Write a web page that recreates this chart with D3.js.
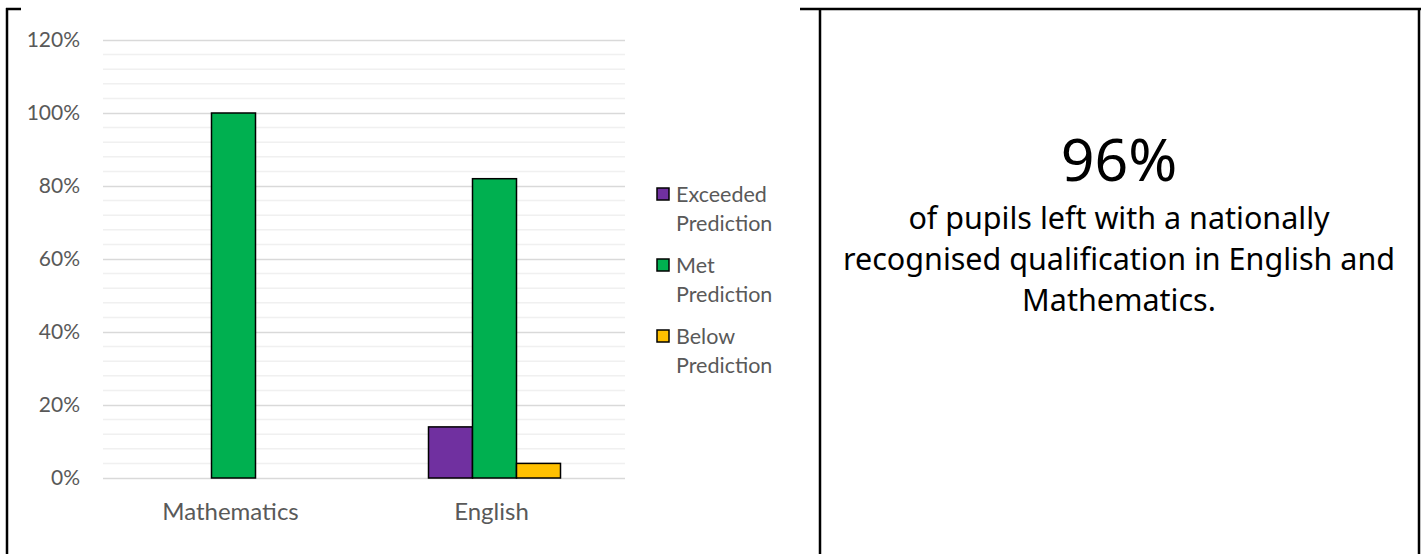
<!DOCTYPE html>
<html>
<head>
<meta charset="utf-8">
<script src="https://cdn.jsdelivr.net/npm/d3@7"></script>
<style>
  body { margin: 0; background: #fff; }
  svg { display: block; }
</style>
</head>
<body>
<script>
const subjects = ['Mathematics', 'English'];
const seriesNames = ['Exceeded Prediction', 'Met Prediction', 'Below Prediction'];
const exceeded = [0, 14];
const met = [100, 82];
const below = [0, 4];
const yTicks = [0, 20, 40, 60, 80, 100, 120];
const colours = ['#7030a0', '#00b050', '#ffc000'];
const headline = '96%';
const blurb = ['of pupils left with a nationally', 'recognised qualification in English and', 'Mathematics.'];

const W = 1423, H = 554;
const svg = d3.select('body').append('svg').attr('width', W).attr('height', H);

// table borders
const border = svg.append('g').attr('stroke', '#000').attr('stroke-width', 2.5);
border.append('line').attr('x1', 7).attr('x2', 7).attr('y1', 8).attr('y2', H);
border.append('line').attr('x1', 6).attr('x2', 21).attr('y1', 9).attr('y2', 9);
border.append('line').attr('x1', 800).attr('x2', 1421).attr('y1', 9).attr('y2', 9);
border.append('line').attr('x1', 820).attr('x2', 820).attr('y1', 8).attr('y2', H);
border.append('line').attr('x1', 1419).attr('x2', 1419).attr('y1', 8).attr('y2', H);

const plot = { left: 103, right: 625, top: 40, bottom: 478 };
const x = d3.scaleBand().domain(subjects).range([plot.left, plot.right]);
const y = d3.scaleLinear().domain([0, 120]).range([plot.bottom, plot.top]);
const inner = d3.scaleBand().domain(seriesNames).range([0, 132]);

// minor grid
svg.append('g').selectAll('line')
  .data(d3.range(0, 121, 4).filter(v => v % 20 !== 0))
  .enter().append('line')
  .attr('x1', plot.left).attr('x2', plot.right)
  .attr('y1', d => y(d)).attr('y2', d => y(d))
  .attr('stroke', '#f0f0f0').attr('stroke-width', 1.5);

// major grid + labels via axis
const axis = svg.append('g')
  .attr('transform', `translate(${plot.left},0)`)
  .call(d3.axisLeft(y).tickValues(yTicks).tickSize(-(plot.right - plot.left)).tickPadding(23).tickFormat(d => d + '%'));
axis.select('.domain').remove();
axis.selectAll('.tick line').attr('stroke', '#d9d9d9').attr('stroke-width', 1.5);
axis.selectAll('.tick text').attr('fill', '#595959').style('font-family', 'Lato, sans-serif').style('font-size', '21px');

const table = subjects.map((s, i) => ({ subject: s, values: [exceeded[i], met[i], below[i]] }));

const groups = svg.append('g').selectAll('g')
  .data(table).enter().append('g')
  .attr('transform', d => `translate(${x(d.subject) + x.bandwidth() / 2 - 66},0)`);

groups.selectAll('rect')
  .data(d => d.values.map((v, k) => ({ name: seriesNames[k], value: v, colour: colours[k] })).filter(e => e.value > 0))
  .enter().append('rect')
  .attr('x', d => inner(d.name))
  .attr('width', inner.bandwidth())
  .attr('y', d => y(d.value))
  .attr('height', d => y(0) - y(d.value))
  .attr('fill', d => d.colour)
  .attr('stroke', '#000').attr('stroke-width', 1.5);

// x labels
svg.append('g').selectAll('text')
  .data(subjects).enter().append('text')
  .attr('x', d => x(d) + x.bandwidth() / 2 - 3)
  .attr('y', 520)
  .attr('text-anchor', 'middle')
  .attr('fill', '#595959')
  .style('font-family', 'Lato, sans-serif').style('font-size', '24px')
  .text(d => d);

// legend
const legend = svg.append('g').selectAll('g')
  .data(seriesNames).enter().append('g')
  .attr('transform', (d, i) => `translate(657,${188 + i * 71})`);
legend.append('rect')
  .attr('width', 12).attr('height', 12)
  .attr('fill', (d, i) => colours[i])
  .attr('stroke', '#000').attr('stroke-width', 1.5);
legend.append('text')
  .attr('fill', '#595959')
  .style('font-family', 'Lato, sans-serif').style('font-size', '21.5px')
  .selectAll('tspan')
  .data(d => { const p = d.split(' '); return [p[0], p.slice(1).join(' ')]; })
  .enter().append('tspan')
  .attr('x', 19).attr('y', (d, i) => 14 + i * 29)
  .text(d => d);

// right panel text
const cx = 1119;
svg.append('text')
  .attr('x', cx).attr('y', 181)
  .attr('text-anchor', 'middle')
  .style('font-family', '"Noto Sans", sans-serif').style('font-size', '59px')
  .attr('fill', '#000')
  .text(headline);
svg.append('g').selectAll('text')
  .data(blurb).enter().append('text')
  .attr('x', cx).attr('y', (d, i) => 229 + i * 41)
  .attr('text-anchor', 'middle')
  .style('font-family', '"Noto Sans", sans-serif').style('font-size', '30.5px')
  .attr('fill', '#000')
  .text(d => d);
</script>
</body>
</html>
